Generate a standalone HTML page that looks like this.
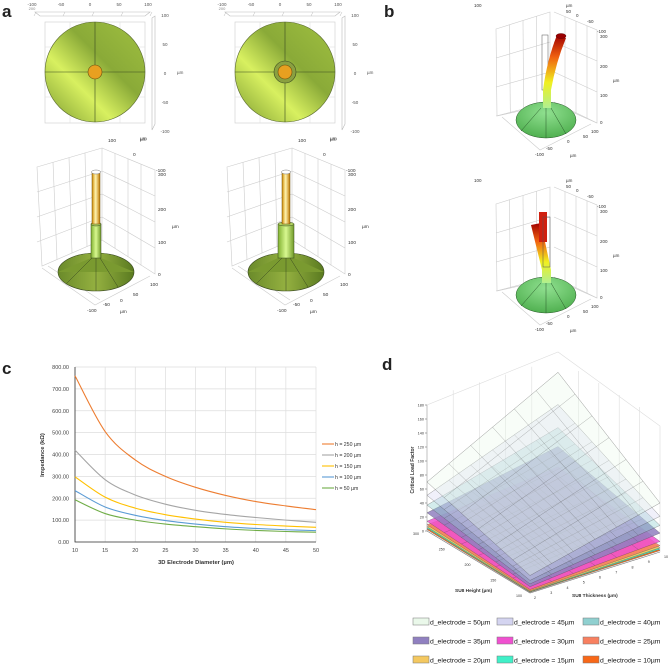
<!DOCTYPE html>
<html><head><meta charset="utf-8"><style>
html,body{margin:0;padding:0;background:#fff;width:669px;height:669px;overflow:hidden}
svg{display:block;font-family:"Liberation Sans",sans-serif}
</style></head><body>
<svg id="fig" width="669" height="669" viewBox="0 0 669 669">
<defs>
<linearGradient id="disc" x1="0" y1="1" x2="1" y2="0"><stop offset="0" stop-color="#7a9a30"/><stop offset="0.35" stop-color="#d8f060"/><stop offset="0.6" stop-color="#8aaa38"/><stop offset="1" stop-color="#a0c040"/></linearGradient>
<linearGradient id="cone" x1="0" y1="0" x2="1" y2="0"><stop offset="0" stop-color="#6a8a2a"/><stop offset="0.5" stop-color="#94b040"/><stop offset="1" stop-color="#5a7a20"/></linearGradient>
<linearGradient id="gold" x1="0" y1="0" x2="1" y2="0"><stop offset="0" stop-color="#d08a00"/><stop offset="0.45" stop-color="#fff4b0"/><stop offset="1" stop-color="#c07800"/></linearGradient>
<linearGradient id="gstick" x1="0" y1="0" x2="1" y2="0"><stop offset="0" stop-color="#80b030"/><stop offset="0.5" stop-color="#d8f890"/><stop offset="1" stop-color="#709a28"/></linearGradient>
<linearGradient id="heat" x1="0" y1="1" x2="0" y2="0"><stop offset="0" stop-color="#b0f090"/><stop offset="0.35" stop-color="#f0f020"/><stop offset="0.7" stop-color="#f06010"/><stop offset="1" stop-color="#a00000"/></linearGradient>
<radialGradient id="gcone" cx="0.5" cy="0.3" r="0.7"><stop offset="0" stop-color="#90e090"/><stop offset="1" stop-color="#50b050"/></radialGradient>
</defs>

<text x="2" y="17" font-size="17" font-weight="bold" fill="#222">a</text>
<text x="384" y="17" font-size="17" font-weight="bold" fill="#222">b</text>
<text x="2" y="374" font-size="17" font-weight="bold" fill="#222">c</text>
<text x="382" y="370" font-size="17" font-weight="bold" fill="#222">d</text>

<g id="panelA"></g>
<g id="panelB"></g>
<g id="panelC"></g>
<g id="panelD"></g>
</svg>
<script>
// ---------- Panel C data ----------
const cDiam = [10,15,20,25,30,35,40,45,50];
const cH250 = [760,505,375,300,250,213,185,165,148];
const cH200 = [420,285,215,173,145,126,112,100,90];
const cH150 = [298,205,155,125,105,90,80,73,67];
const cH100 = [235,160,122,98,82,70,62,56,52];
const cH50 = [193,130,100,82,70,60,53,48,45];
const cSeriesNames = ["h = 250 µm","h = 200 µm","h = 150 µm","h = 100 µm","h = 50 µm"];
const cYTicks = [0,100,200,300,400,500,600,700,800];
const cXTicks = [10,15,20,25,30,35,40,45,50];

// ---------- Panel D data (corner values: left, back, right, front) ----------
const dNames = ["d_electrode = 50µm","d_electrode = 45µm","d_electrode = 40µm","d_electrode = 35µm","d_electrode = 30µm","d_electrode = 25µm","d_electrode = 20µm","d_electrode = 15µm","d_electrode = 10µm"];
const d50 = [70,171,70,25];
const d45 = [51,125,51,18];
const d40 = [37,92,38,13];
const d35 = [26,65,27,9];
const d30 = [14,36,15,5];
const d25 = [9,22,9,3];
const d20 = [6,14,6,2];
const d15 = [4,9,4,1.5];
const d10 = [2,5,2,1];
const dZTicks = [0,20,40,60,80,100,120,140,160,180];
const dHeightTicks = [300,250,200,150,100];
const dThickTicks = [2,3,4,5,6,7,8,9,10];

const NS="http://www.w3.org/2000/svg";
function el(tag,attrs,parent,text){const e=document.createElementNS(NS,tag);for(const k in attrs)e.setAttribute(k,attrs[k]);if(text!==undefined)e.textContent=text;parent.appendChild(e);return e;}

// ---------- Panel A ----------
const A=document.getElementById('panelA');
function topView(cx,ring){
  const g=el('g',{},A);
  
  
  el('path',{d:`M${cx-60} 12 L${cx+55} 12 L${cx+50} 16 L${cx-55} 16 Z`,fill:'none',stroke:'#bbb','stroke-width':0.6},g);
  [-100,-50,0,50,100].forEach((v,i)=>{const x=cx-63+i*29;el('text',{x:x,y:6,'font-size':4.5,fill:'#555','text-anchor':'middle'},g,String(v));el('line',{x1:x+4,y1:12,x2:x+2,y2:16,stroke:'#bbb','stroke-width':0.5},g);});
  el('text',{x:cx-63,y:10,'font-size':4,fill:'#888','text-anchor':'middle'},g,'200');
  el('rect',{x:cx-50,y:22,width:100,height:101,fill:'none',stroke:'#ccc','stroke-width':0.6},g);
  [-25,25].forEach(d=>{el('line',{x1:cx+d,y1:22,x2:cx+d,y2:123,stroke:'#ddd','stroke-width':0.5},g);el('line',{x1:cx-50,y1:72+d,x2:cx+50,y2:72+d,stroke:'#ddd','stroke-width':0.5},g);});
  el('circle',{cx:cx,cy:72,r:50,fill:'url(#disc)',stroke:'#5a6a30','stroke-width':0.6},g);
  el('line',{x1:cx,y1:22,x2:cx,y2:122,stroke:'#3a4a20','stroke-width':0.6},g);
  el('line',{x1:cx-50,y1:72,x2:cx+50,y2:72,stroke:'#3a4a20','stroke-width':0.6},g);
  if(ring) el('circle',{cx:cx,cy:72,r:11,fill:'#8aa040',stroke:'#3a4a20','stroke-width':0.6},g);
  el('circle',{cx:cx,cy:72,r:7,fill:'#e8a020',stroke:'#6a5010','stroke-width':0.6},g);
  el('path',{d:`M${cx+57} 18 L${cx+60} 16 L${cx+60} 124 L${cx+57} 130 Z`,fill:'none',stroke:'#bbb','stroke-width':0.6},g);
  [100,50,0,-50,-100].forEach((v,i)=>{el('text',{x:cx+70,y:17+i*29,'font-size':4.5,fill:'#555','text-anchor':'middle'},g,String(v));});
  el('text',{x:cx+82,y:74,'font-size':4.5,fill:'#555'},g,'µm');
  el('text',{x:cx+45,y:141,'font-size':4.5,fill:'#555'},g,'µm');
}
topView(95,false);topView(285,true);

function sideView(ox,wide){
  const g=el('g',{transform:`translate(${ox},0)`},A);
  
  
  const gs={stroke:'#ccc','stroke-width':0.6,fill:'none'};
  el('path',{d:'M37 167 L102 148 L102 240 L42 266 Z',...gs},g);
  el('path',{d:'M102 148 L155 170 L155 274 L102 240',...gs},g);
  for(let i=1;i<4;i++){el('line',{x1:37+i*16,y1:167-i*4.75,x2:42+i*15,y2:266-i*6.5,...gs},g);el('line',{x1:37,y1:167+i*25,x2:102,y2:148+i*23,...gs},g);}
  for(let i=1;i<4;i++){el('line',{x1:102+i*13,y1:148+i*5.5,x2:102+i*13,y2:240+i*8.5,...gs},g);el('line',{x1:102,y1:148+i*23,x2:155,y2:170+i*26,...gs},g);}
  el('path',{d:'M42 268 L95 305 L150 276',...gs},g);
  el('path',{d:'M48 266 L100 300',...gs},g);
  const sw=wide?8:5;
  el('ellipse',{cx:96,cy:272,rx:38,ry:19,fill:'url(#cone)',stroke:'#3a4a20','stroke-width':0.6},g);
  el('path',{d:`M58 272 L${96-sw} 258 L${96+sw} 258 L134 272 Z`,fill:'#7a9a30'},g);
  el('line',{x1:96,y1:258,x2:96,y2:291,stroke:'#3a4a20','stroke-width':0.5},g);
  el('line',{x1:92,y1:258,x2:66,y2:284,stroke:'#3a4a20','stroke-width':0.5},g);
  el('line',{x1:100,y1:258,x2:118,y2:287,stroke:'#3a4a20','stroke-width':0.5},g);
  el('rect',{x:96-sw,y:224,width:2*sw,height:34,fill:'url(#gstick)',stroke:'#3a4a20','stroke-width':0.5},g);
  el('ellipse',{cx:96,cy:224,rx:sw,ry:2,fill:'#b0d060',stroke:'#3a4a20','stroke-width':0.5},g);
  el('rect',{x:92,y:172,width:8,height:52,fill:'url(#gold)',stroke:'#6a5010','stroke-width':0.5},g);
  el('ellipse',{cx:96,cy:172,rx:4.5,ry:2,fill:'#fff',stroke:'#777','stroke-width':0.5},g);
  [[108,142,'100'],[133,156,'0'],[156,172,'-100'],[158,176,'300'],[158,211,'200'],[158,244,'100'],[158,276,'0'],[150,286,'100'],[133,296,'50'],[120,302,'0'],[103,306,'-50'],[87,312,'-100']].forEach(t=>el('text',{x:t[0],y:t[1],'font-size':4.8,fill:'#333'},g,t[2]));
  el('text',{x:172,y:228,'font-size':4.8,fill:'#333'},g,'µm');
  el('text',{x:140,y:140,'font-size':4.8,fill:'#333'},g,'µm');
  el('text',{x:120,y:313,'font-size':4.8,fill:'#333'},g,'µm');
}
sideView(0,false);sideView(190,true);

// ---------- Panel B ----------
const B=document.getElementById('panelB');
function bentView(oy,variant){
  const g=el('g',{transform:`translate(0,${oy})`},B);
  
  
  const gs={stroke:'#ccc','stroke-width':0.6,fill:'none'};
  el('path',{d:'M496 29 L550 12 L550 104 L497 116 Z',...gs},g);
  el('path',{d:'M554 12 L597 30 L597 123 L554 104',...gs},g);
  for(let i=1;i<4;i++){el('line',{x1:496+i*13.5,y1:29-i*4.3,x2:497+i*13.3,y2:116-i*3,...gs},g);el('line',{x1:496,y1:29+i*29,x2:550,y2:12+i*30,...gs},g);el('line',{x1:554+i*11,y1:12+i*4.5,x2:554+i*11,y2:104+i*4.7,...gs},g);el('line',{x1:554,y1:12+i*30,x2:597,y2:30+i*31,...gs},g);}
  el('path',{d:'M502 117 L540 150 L591 124',...gs},g);
  el('ellipse',{cx:546,cy:120,rx:30,ry:18,fill:'url(#gcone)',stroke:'#2a5a2a','stroke-width':0.5},g);
  el('line',{x1:546,y1:108,x2:546,y2:138,stroke:'#2a5a2a','stroke-width':0.5},g);
  el('line',{x1:541,y1:108,x2:521,y2:131,stroke:'#2a5a2a','stroke-width':0.5},g);
  el('line',{x1:551,y1:108,x2:566,y2:134,stroke:'#2a5a2a','stroke-width':0.5},g);
  if(variant===0){
    el('rect',{x:542,y:35,width:6,height:55,fill:'none',stroke:'#555','stroke-width':0.5},g);
    el('path',{d:'M543 108 L543 90 Q547 60 557 35 L566 38 Q556 62 551 90 L551 108 Z',fill:'url(#heat)'},g);
    el('ellipse',{cx:561,cy:36,rx:5,ry:2.5,fill:'#900',stroke:'#500','stroke-width':0.4},g);
  } else {
    el('path',{d:'M542 108 L542 95 L531 50 L541 48 L551 95 L551 108 Z',fill:'url(#heat)'},g);
    el('rect',{x:539,y:37,width:8,height:30,fill:'#d02010'},g);
    el('rect',{x:543,y:42,width:7,height:50,fill:'none',stroke:'#555','stroke-width':0.5},g);
  }
  [[474,7,'100'],[566,7,'µm'],[566,13,'50'],[576,17,'0'],[587,23,'-50'],[597,33,'-100'],[600,38,'300'],[600,68,'200'],[613,82,'µm'],[600,97,'100'],[600,124,'0'],[591,133,'100'],[583,138,'50'],[567,143,'0'],[546,150,'-50'],[535,156,'-100'],[570,157,'µm']].forEach(t=>el('text',{x:t[0],y:t[1],'font-size':4.5,fill:'#333'},g,t[2]));
}
bentView(0,0);bentView(175,1);

// ---------- Panel C chart ----------
const C=document.getElementById('panelC');
const cx0=75,cx1=316,cy0=542,cy1=367;
const xScale=v=>cx0+(v-10)/40*(cx1-cx0);
const yScale=v=>cy0-v/800*(cy0-cy1);
cYTicks.forEach(t=>{
  const l=el('line',{x1:cx0,x2:cx1,y1:yScale(t),y2:yScale(t),stroke:'#ddd','stroke-width':0.7},C);
  
  
  const tx=el('text',{x:cx0-6,y:yScale(t)+2,'font-size':5.5,fill:'#444','text-anchor':'end'},C,t.toFixed(2));
  
  
});
cXTicks.forEach(t=>{
  const l=el('line',{x1:xScale(t),x2:xScale(t),y1:cy0,y2:cy1,stroke:'#ddd','stroke-width':0.7},C);
  
  
  const tx=el('text',{x:xScale(t),y:cy0+10,'font-size':5.5,fill:'#444','text-anchor':'middle'},C,String(t));
  
  
});
const ax=el('path',{d:`M${cx0} ${cy1} L${cx0} ${cy0} L${cx1} ${cy0}`,fill:'none',stroke:'#333','stroke-width':0.8},C);


const cSeries=[cH250,cH200,cH150,cH100,cH50];
const cColors=['#ed7d31','#a5a5a5','#ffc000','#5b9bd5','#70ad47'];
function smoothPath(pts){let d=`M${pts[0][0]} ${pts[0][1]}`;for(let i=0;i<pts.length-1;i++){const p0=pts[Math.max(i-1,0)],p1=pts[i],p2=pts[i+1],p3=pts[Math.min(i+2,pts.length-1)];d+=` C${p1[0]+(p2[0]-p0[0])/6} ${p1[1]+(p2[1]-p0[1])/6} ${p2[0]-(p3[0]-p1[0])/6} ${p2[1]-(p3[1]-p1[1])/6} ${p2[0]} ${p2[1]}`;}return d;}
cSeries.forEach((s,i)=>{
  const pts=s.map((v,j)=>[xScale(cDiam[j]),yScale(v)]);
  const p=el('path',{d:smoothPath(pts),fill:'none',stroke:cColors[i],'stroke-width':1.1},C);
  
  
  const ly=444+i*11;
  const ll=el('line',{x1:322,x2:334,y1:ly,y2:ly,stroke:cColors[i],'stroke-width':1.1},C);
  
  
  const lt=el('text',{x:335,y:ly+2,'font-size':5.2,fill:'#333'},C,cSeriesNames[i]);
  
  
});
const yt=el('text',{x:0,y:0,'font-size':5.8,'font-weight':'bold',fill:'#333','text-anchor':'middle',transform:`translate(44,455) rotate(-90)`},C,'Impedance (kΩ)');


const xt=el('text',{x:196,y:564,'font-size':5.8,'font-weight':'bold',fill:'#333','text-anchor':'middle'},C,'3D Electrode Diameter (µm)');



// ---------- Panel D chart ----------
const D=document.getElementById('panelD');
const floorL=[427,531],floorB=[558,492],floorR=[660,552],floorF=[530,593];
const zPx=0.7;
const zp=(c,v)=>[c[0],c[1]-v*zPx];
const gs={stroke:'#ddd','stroke-width':0.6,fill:'none'};
el('path',{d:`M${floorL[0]} ${floorL[1]} L${floorL[0]} ${floorL[1]-180*zPx} L${floorB[0]} ${floorB[1]-200*zPx} L${floorR[0]} ${floorR[1]-180*zPx} L${floorR[0]} ${floorR[1]}`,...gs},D);
for(let i=1;i<5;i++){const x=floorL[0]+(floorB[0]-floorL[0])*i/5,y=floorL[1]+(floorB[1]-floorL[1])*i/5;el('line',{x1:x,y1:y,x2:x,y2:y-190*zPx,...gs},D);}
for(let i=1;i<5;i++){const x=floorB[0]+(floorR[0]-floorB[0])*i/5,y=floorB[1]+(floorR[1]-floorB[1])*i/5;el('line',{x1:x,y1:y,x2:x,y2:y-190*zPx,...gs},D);}
dZTicks.forEach(t=>{const y=floorL[1]-t*zPx;el('line',{x1:floorL[0]-2,x2:floorL[0],y1:y,y2:y,stroke:'#555','stroke-width':0.5},D);const tx=el('text',{x:floorL[0]-3,y:y+1.5,'font-size':3.8,fill:'#333','text-anchor':'end'},D,String(t));
  
  });
el('line',{x1:floorL[0],y1:floorL[1],x2:floorL[0],y2:floorL[1]-180*zPx,stroke:'#999','stroke-width':0.5},D);
el('path',{d:`M${floorL[0]} ${floorL[1]} L${floorF[0]} ${floorF[1]} L${floorR[0]} ${floorR[1]}`,fill:'none',stroke:'#777','stroke-width':0.6},D);
const dSeries=[d50,d45,d40,d35,d30,d25,d20,d15,d10];
const dColors=['#eaf8ea','#d4d4f0','#90d0d0','#9080c0','#f050d0','#f88060','#f4c860','#40f0c8','#f86818'];
const dOpac=[0.35,0.35,0.4,0.85,0.85,0.9,0.9,0.9,0.95];
for(let k=dSeries.length-1;k>=0;k--){
  const v=dSeries[k];
  const pL=zp(floorL,v[0]),pB=zp(floorB,v[1]),pR=zp(floorR,v[2]),pF=zp(floorF,v[3]);
  const poly=el('path',{d:`M${pL} L${pB} L${pR} L${pF} Z`,fill:dColors[k],'fill-opacity':dOpac[k],stroke:'#444','stroke-width':0.4,'stroke-opacity':0.7},D);
  
  
  if(k<5){for(let i=1;i<6;i++){const a=i/6;
    const p1=[pL[0]+(pB[0]-pL[0])*a,pL[1]+(pB[1]-pL[1])*a],p2=[pF[0]+(pR[0]-pF[0])*a,pF[1]+(pR[1]-pF[1])*a];
    const q1=[pL[0]+(pF[0]-pL[0])*a,pL[1]+(pF[1]-pL[1])*a],q2=[pB[0]+(pR[0]-pB[0])*a,pB[1]+(pR[1]-pB[1])*a];
    el('line',{x1:p1[0],y1:p1[1],x2:p2[0],y2:p2[1],stroke:'#444','stroke-width':0.35,'stroke-opacity':0.6},D);
    el('line',{x1:q1[0],y1:q1[1],x2:q2[0],y2:q2[1],stroke:'#444','stroke-width':0.35,'stroke-opacity':0.6},D);}}
}
dHeightTicks.forEach((t,i)=>{const a=i/(dHeightTicks.length-1);const tx=el('text',{x:floorL[0]+(floorF[0]-floorL[0])*a-8,y:floorL[1]+(floorF[1]-floorL[1])*a+4,'font-size':3.6,fill:'#333','text-anchor':'end'},D,String(t));
  
  });
dThickTicks.forEach((t,i)=>{const a=i/(dThickTicks.length-1);const tx=el('text',{x:floorF[0]+(floorR[0]-floorF[0])*a+4,y:floorF[1]+(floorR[1]-floorF[1])*a+6,'font-size':3.6,fill:'#333'},D,String(t));
  
  });
const zt=el('text',{x:0,y:0,'font-size':5,'font-weight':'bold',fill:'#333','text-anchor':'middle',transform:'translate(414,470) rotate(-90)'},D,'Critical Load Factor');


const ht=el('text',{x:455,y:592,'font-size':4.8,'font-weight':'bold',fill:'#333'},D,'SU8 Height (µm)');


const tt=el('text',{x:572,y:597,'font-size':4.8,'font-weight':'bold',fill:'#333'},D,'SU8 Thickness (µm)');


const lx=[413,497,583],ly=[622,641,660];
dNames.forEach((n,i)=>{
  const x=lx[i%3],y=ly[Math.floor(i/3)];
  const r=el('rect',{x:x,y:y-4,width:16,height:7,fill:dColors[i],stroke:'#777','stroke-width':0.5},D);
  
  
  const t=el('text',{x:x+17,y:y+2.5,'font-size':6.8,fill:'#111'},D,n);
  
  
});
</script>
</body></html>
